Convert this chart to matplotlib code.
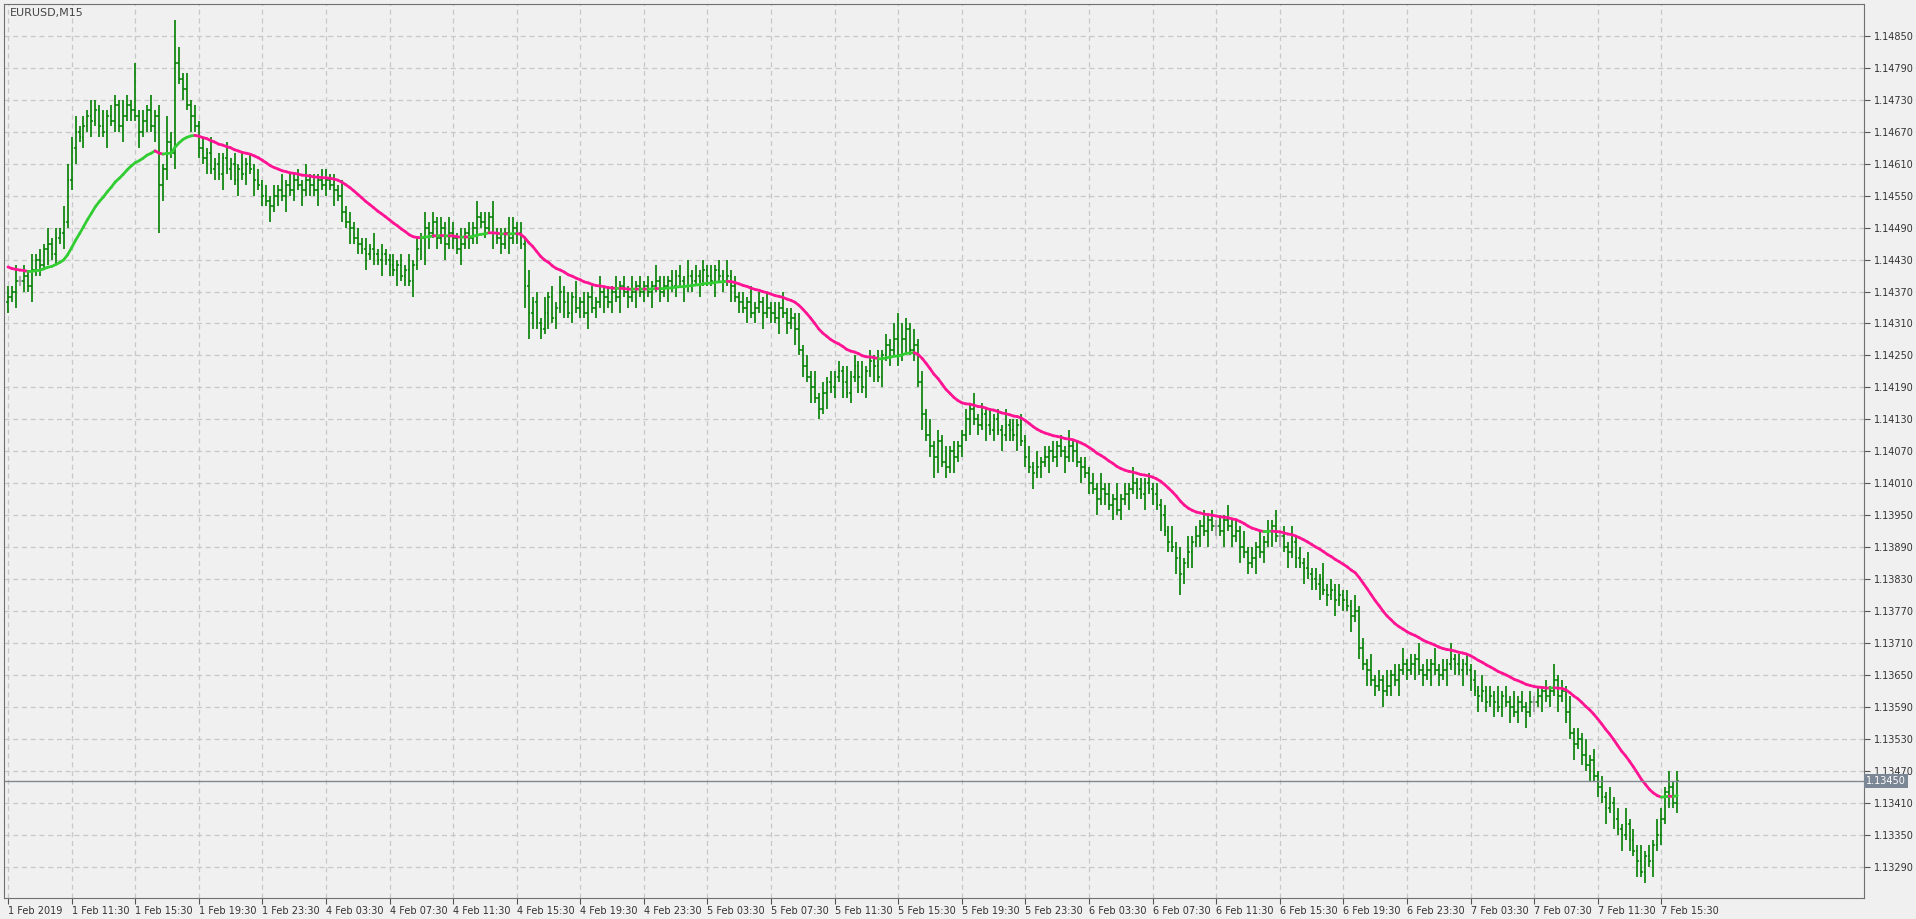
import numpy as np
import pandas as pd
import matplotlib
matplotlib.use("Agg")
from matplotlib import pyplot as plt
from matplotlib.collections import LineCollection

# ---- data (closes in pips above 1.1300, one row per 4h block = 16 bars of M15) ----
close_rows = [
    [136, 137, 139, 139, 140, 138, 141, 143, 142, 145, 146, 144, 147, 148, 150, 158],
    [164, 167, 166, 168, 170, 169, 171, 168, 167, 170, 169, 172, 168, 170, 172, 171],
    [170, 167, 169, 171, 168, 170, 157, 160, 165, 163, 180, 177, 175, 172, 170, 168],
    [164, 162, 163, 160, 161, 159, 162, 160, 161, 158, 160, 159, 161, 160, 158, 157],
    [155, 154, 153, 155, 156, 155, 157, 156, 158, 157, 156, 158, 157, 156, 158, 157],
    [158, 157, 156, 155, 152, 150, 149, 147, 146, 145, 144, 145, 144, 143, 144, 143],
    [142, 141, 142, 140, 141, 139, 142, 145, 147, 149, 148, 150, 147, 149, 146, 148],
    [147, 145, 146, 148, 147, 149, 151, 150, 149, 151, 148, 147, 146, 148, 147, 149],
    [148, 146, 138, 133, 135, 131, 130, 133, 136, 132, 134, 137, 135, 133, 136, 134],
    [135, 133, 136, 134, 135, 137, 136, 135, 137, 136, 138, 137, 136, 137, 138, 137],
    [138, 137, 138, 139, 137, 138, 139, 138, 140, 139, 138, 140, 139, 140, 139, 141],
    [140, 139, 141, 140, 139, 140, 138, 136, 135, 134, 135, 133, 134, 135, 133, 134],
    [133, 132, 134, 133, 131, 132, 130, 126, 123, 121, 119, 117, 115, 118, 120, 119],
    [121, 122, 120, 118, 121, 123, 121, 119, 122, 124, 123, 121, 125, 127, 126, 128],
    [125, 128, 130, 126, 127, 120, 114, 110, 108, 106, 109, 105, 104, 107, 106, 108],
    [110, 113, 115, 113, 112, 114, 112, 111, 113, 111, 110, 112, 111, 110, 112, 109],
    [106, 104, 103, 104, 105, 106, 107, 106, 108, 107, 106, 108, 107, 105, 104, 103],
    [101, 100, 98, 100, 99, 97, 98, 96, 98, 99, 100, 101, 100, 99, 101, 100],
    [99, 97, 95, 92, 90, 89, 87, 84, 86, 88, 90, 91, 93, 92, 94, 93],
    [93, 92, 94, 93, 91, 92, 89, 88, 86, 87, 89, 88, 90, 92, 93, 91],
    [91, 89, 88, 90, 87, 86, 85, 84, 83, 82, 83, 81, 80, 81, 79, 80],
    [79, 78, 76, 77, 70, 67, 66, 64, 63, 64, 62, 63, 65, 64, 66, 67],
    [66, 67, 68, 66, 65, 66, 67, 66, 65, 66, 67, 68, 67, 66, 67, 66],
    [64, 62, 61, 62, 60, 61, 60, 59, 61, 60, 59, 58, 60, 59, 58, 60],
    [60, 61, 62, 61, 62, 64, 61, 62, 58, 54, 52, 53, 50, 48, 49, 46],
    [44, 42, 40, 41, 38, 36, 35, 37, 34, 32, 30, 28, 31, 30, 33, 35],
    [38, 43, 44, 41, 45],
]
# extra wick above / below the bar body, pips
up_rows = [
    "2131213121312133", "2312132131221321", "9121312152831312", "1213121312131212",
    "1212131212131212", "2121312121213121", "1212131213121213", "2131213121312132",
    "1213121312131213", "1212131213121312", "1213121212131212", "1212131212131213",
    "1213121312131212", "1213121312131213", "5321312131213121", "1213121312131212",
    "1213121212131212", "1213121312131212", "1212131213121312", "1213121312131213",
    "1213121312131212", "1213121312131213", "1213121312131212", "1213121312131212",
    "1212131213121312", "1213121312131213", "21312",
]
dn_rows = [
    "2131213121312131", "2312131213121312", "1312139321312131", "2131213121312131",
    "2131213121312131", "2131213121312131", "2131213125312131", "2131213121312131",
    "2145312131213121", "2131213121312131", "2131213121312131", "2131213121312131",
    "2131213121312131", "2131213121312131", "2131213124312131", "2131213121312131",
    "2131213121312131", "2131213121312131", "2131213421312131", "2131213121312131",
    "2131213121312131", "2131213121312131", "2131213121312131", "2131213121312131",
    "2131213121312131", "2131213121312131", "21312",
]
tick_labels = [
    "1 Feb 2019", "1 Feb 11:30", "1 Feb 15:30", "1 Feb 19:30", "1 Feb 23:30",
    "4 Feb 03:30", "4 Feb 07:30", "4 Feb 11:30", "4 Feb 15:30", "4 Feb 19:30", "4 Feb 23:30",
    "5 Feb 03:30", "5 Feb 07:30", "5 Feb 11:30", "5 Feb 15:30", "5 Feb 19:30", "5 Feb 23:30",
    "6 Feb 03:30", "6 Feb 07:30", "6 Feb 11:30", "6 Feb 15:30", "6 Feb 19:30", "6 Feb 23:30",
    "7 Feb 03:30", "7 Feb 07:30", "7 Feb 11:30", "7 Feb 15:30",
]
last_price = 1.13450
ma_seed = 1.1442

close = 1.13 + np.array([v for r in close_rows for v in r], dtype=float) / 10000
up = np.array([int(c) for r in up_rows for c in r], dtype=float)[:len(close)] / 10000
dn = np.array([int(c) for r in dn_rows for c in r], dtype=float)[:len(close)] / 10000
n = len(close)
opn = np.r_[close[0] - 0.0001, close[:-1]]
high = np.maximum(opn, close) + up
low = np.minimum(opn, close) - dn
x = np.arange(n)

# moving average, green while rising, pink while falling
ma = pd.Series(np.r_[ma_seed, close]).ewm(span=30, adjust=False).mean().values[1:]

BG = "#f0f0f0"
fig = plt.figure(figsize=(19.16, 9.19), dpi=100, facecolor=BG)
ax = fig.add_axes([4 / 1916, 21 / 919, 1860 / 1916, 894 / 919], facecolor=BG)

ax.set_xlim(-1, 467)
ax.set_ylim(1.13231, 1.14910)

ax.grid(True, color="#c8c8c8", linestyle=(0, (4, 3)), linewidth=0.9)
ax.set_axisbelow(True)

# OHLC bars
bar_cols = ["#a0a0a0" if abs(o - c) < 1e-7 else "#008000" for o, c in zip(opn, close)]
ax.vlines(x, low, high, colors=bar_cols, linewidth=1.2)
ax.hlines(opn, x - 0.45, x, colors=bar_cols, linewidth=1.1)
ax.hlines(close, x, x + 0.45, colors=bar_cols, linewidth=1.1)

segs = [[(i - 1, ma[i - 1]), (i, ma[i])] for i in range(1, n)]
seg_cols = ["#32cd32" if ma[i] > ma[i - 1] else "#ff1493" for i in range(1, n)]
ax.add_collection(LineCollection(segs, colors=seg_cols, linewidths=2.0, capstyle="round"))

ax.axhline(last_price, color="#808890", linewidth=1.0)

ax.set_xticks(np.arange(len(tick_labels)) * 16)
ax.set_xticklabels(tick_labels, ha="left", fontsize=7, color="#333333")
ax.tick_params(axis="x", length=4, color="#555555", pad=2)

yt = np.arange(1.13290, 1.14851, 0.0006)
ax.yaxis.tick_right()
ax.set_yticks(yt)
ax.set_yticklabels([f"{v:.5f}" for v in yt], fontsize=7, color="#333333")
ax.tick_params(axis="y", length=4, color="#555555", pad=3)

for s in ax.spines.values():
    s.set_color("#707070")

ax.text(1.001, last_price, f"{last_price:.5f}", transform=ax.get_yaxis_transform(),
        fontsize=7, color="white", va="center", ha="left",
        bbox=dict(boxstyle="square,pad=0.2", fc="#7b8794", ec="none"))

ax.text(0.003, 0.995, "EURUSD,M15", transform=ax.transAxes, fontsize=8,
        color="#444444", va="top", ha="left")

fig.savefig("out.png", dpi=100, facecolor=BG)
